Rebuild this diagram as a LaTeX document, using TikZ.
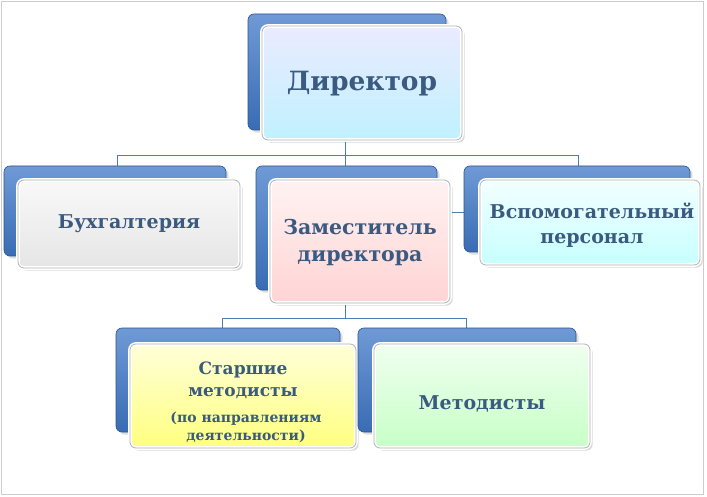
\documentclass[tikz,border=0pt]{standalone}
\usepackage{fontspec}
\setmainfont{DejaVu Serif}
\usetikzlibrary{shadows}
\definecolor{txt}{HTML}{3A5A80}
\definecolor{backb}{HTML}{3F78C8}
\definecolor{lin}{HTML}{4A7EB5}
\tikzset{
 back/.style={draw=backb!70!black,line width=0.6pt,rounded corners=6pt,top color=backb!75!white,bottom color=backb!90!black,drop shadow={opacity=0.25}},
 front/.style={draw=white,double=gray!60,double distance=0.8pt,line width=1.5pt,rounded corners=6pt,drop shadow={opacity=0.3}},
 lbl/.style={text=txt,font=\bfseries,align=center},
 conn/.style={draw=lin,line width=0.8pt}
}
\begin{document}
\begin{tikzpicture}[x=1pt,y=-1pt]
\useasboundingbox[fill=white] (0,0) rectangle (707,497);
\draw[gray!40] (1,1) rectangle (703,494);
% connectors
\coordinate (t1) at (345,155); \coordinate (t2) at (345,318);
\draw[conn] (345,140) -- (t1);
\draw[conn] (117,166) -- (117,155) -- (578,155) -- (578,166);
\draw[conn] (345,155) -- (345,166);
\draw[conn] (450,212) -- (480,212);
\draw[conn] (345,303) -- (t2);
\draw[conn] (222,328) -- (222,318) -- (466,318) -- (466,328);
% boxes
\draw[back] (248,14) rectangle (446,130);
\draw[front,top color=blue!8,bottom color=blue!22!cyan!25] (262,26) rectangle (462,140);
\node[lbl,font=\bfseries\fontsize{26.5}{30}\selectfont] (dir) at (362,84) {Директор};

\draw[back] (4,166) rectangle (226,256);
\draw[front,top color=gray!5,bottom color=gray!20] (18,180) rectangle (240,268);
\node[lbl,font=\bfseries\fontsize{19}{22}\selectfont] (buh) at (129,224) {Бухгалтерия};

\draw[back] (256,166) rectangle (437,290);
\draw[front,top color=red!5,bottom color=red!17] (270,180) rectangle (450,303);
\node[lbl,font=\bfseries\fontsize{20.5}{27}\selectfont] (zam) at (360,243) {Заместитель\\директора};

\draw[back] (464,166) rectangle (690,252);
\draw[front,top color=cyan!5,bottom color=cyan!22] (480,180) rectangle (700,265);
\node[lbl,font=\bfseries\fontsize{19}{25}\selectfont] (vsp) at (592,225) {Вспомогательный\\персонал};

\draw[back] (116,328) rectangle (340,432);
\draw[front,top color=yellow!15,bottom color=yellow!50] (130,344) rectangle (356,448);
\node[lbl,font=\bfseries\fontsize{17}{22}\selectfont] (st) at (243,380) {Старшие\\методисты};
\node[lbl,font=\bfseries\fontsize{14}{18}\selectfont] (st2) at (246,427) {(по направлениям\\деятельности)};

\draw[back] (358,328) rectangle (576,432);
\draw[front,top color=green!6,bottom color=green!22] (374,344) rectangle (590,448);
\node[lbl,font=\bfseries\fontsize{19}{22}\selectfont] (met) at (482,404) {Методисты};
\end{tikzpicture}
\end{document}
